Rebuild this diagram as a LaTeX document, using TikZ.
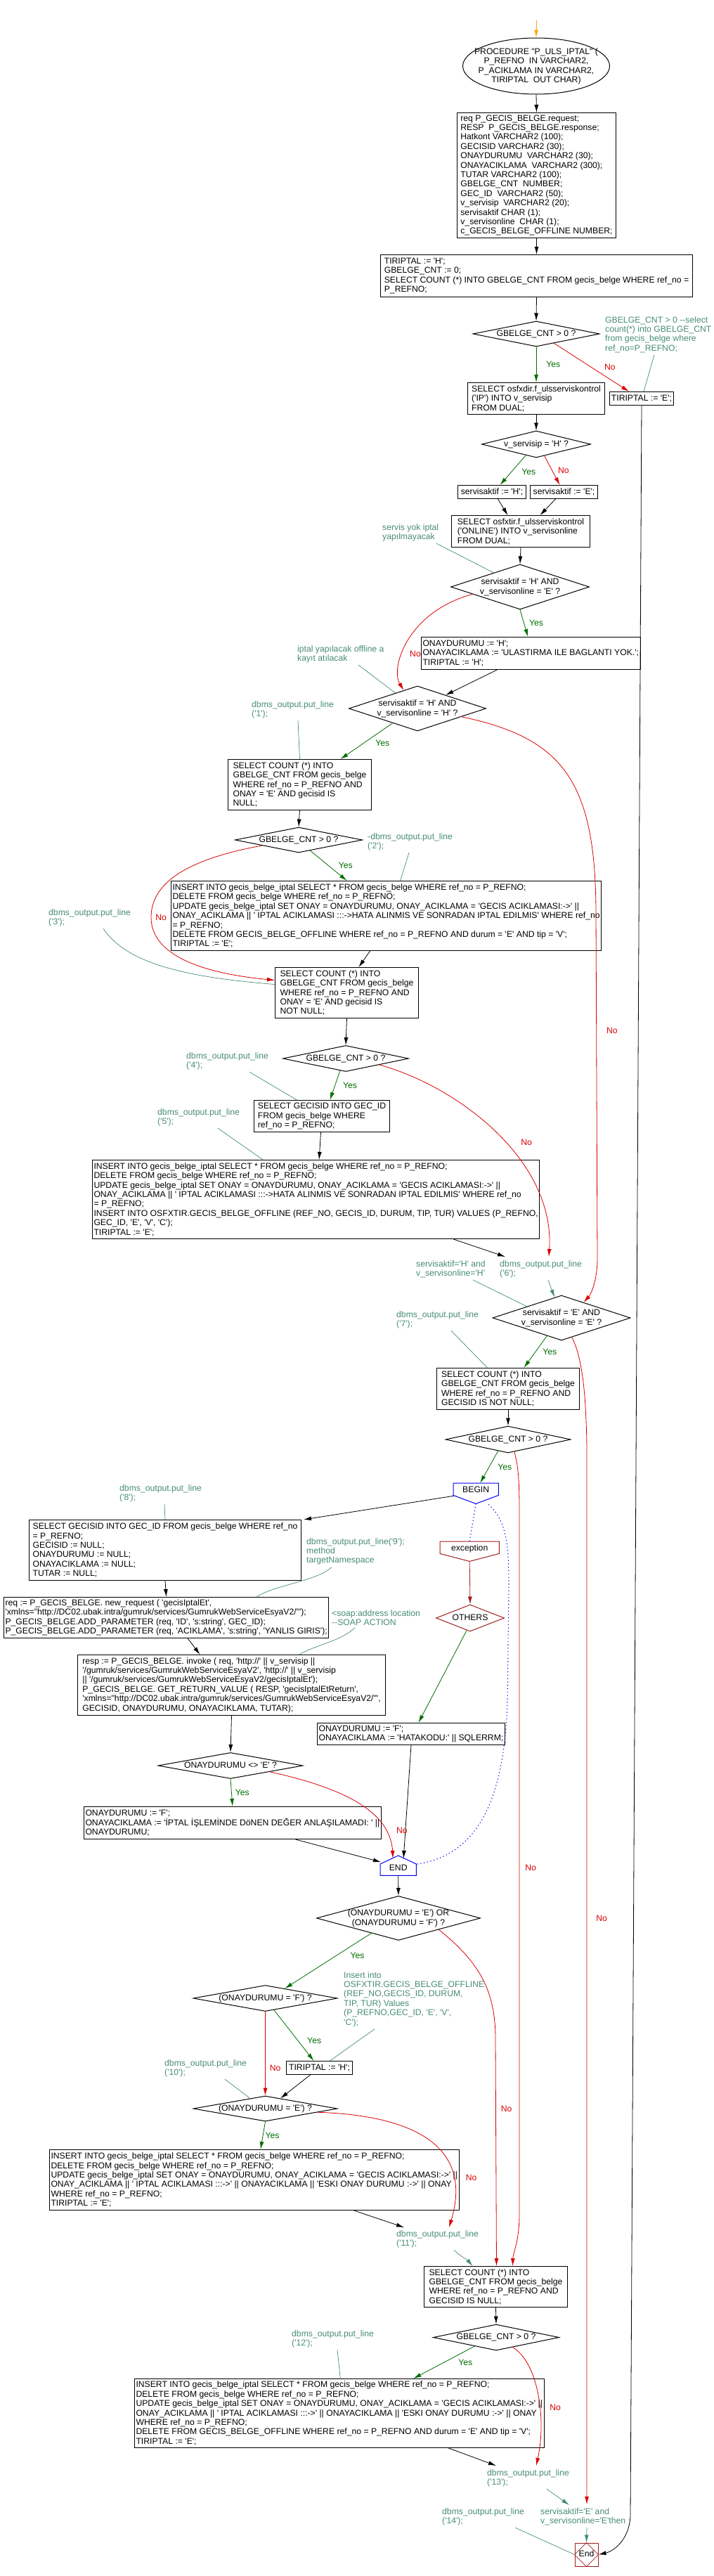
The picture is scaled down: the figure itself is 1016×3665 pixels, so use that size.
\documentclass[tikz,border=0pt]{standalone}
\usepackage{fontspec}
\setmainfont{Liberation Sans}[Ligatures=TeXOff]
\usetikzlibrary{shapes.geometric,arrows.meta,calc}
\definecolor{ygreen}{RGB}{0,110,0}
\definecolor{nred}{RGB}{220,0,0}
\definecolor{cteal}{RGB}{72,140,118}
\definecolor{dred}{RGB}{160,30,30}
\definecolor{bblue}{RGB}{0,0,240}
\definecolor{sorange}{RGB}{255,165,0}
\newcommand{\dtxt}[2][-.3em]{\smash{\raisebox{#1}{\makebox[0pt]{\begin{tabular}{@{}c@{}}#2\end{tabular}}}}}
\begin{document}
\begin{tikzpicture}[x=1pt,y=-1pt,
  every node/.style={font=\fontsize{12.2}{13.4}\selectfont},
  box/.style={draw, line width=1pt, align=left, anchor=north west, inner xsep=2pt, inner ysep=2pt},
  cond/.style={diamond, draw, line width=1pt, inner sep=0pt},
  note/.style={text=cteal, align=left, anchor=north west, inner sep=0pt},
  arr/.style={line width=.8pt, -{Latex[length=11pt,width=6pt]}},
  yes/.style={arr, ygreen},
  no/.style={arr, nred},
  link/.style={line width=.7pt, cteal},
  tlink/.style={link, -{Latex[length=11pt,width=6pt]}},
  dots/.style={bblue, line width=1.1pt, dash pattern=on 1.2pt off 3.6pt},
  ylab/.style={text=ygreen, inner sep=2pt},
  nlab/.style={text=nred, inner sep=2pt}]
\fill[white] (0,0) rectangle (1016,3665);
\useasboundingbox (0,0) rectangle (1016,3665);

\coordinate (st) at (763,29);
\node[ellipse, draw, line width=1pt, inner sep=0pt, minimum width=209pt, minimum height=80pt] (proc) at (763,94)
  {\dtxt{PROCEDURE "P\_ULS\_IPTAL" (\\P\_REFNO~ IN VARCHAR2,\\P\_ACIKLAMA IN VARCHAR2,\\TIRIPTAL~ OUT CHAR)}};
\node[box, minimum width=226pt, minimum height=178pt] (decl) at (650,160)
  {req P\_GECIS\_BELGE.request;\\RESP~ P\_GECIS\_BELGE.response;\\Hatkont VARCHAR2 (100);\\GECISID VARCHAR2 (30);\\ONAYDURUMU~ VARCHAR2 (30);\\ONAYACIKLAMA~ VARCHAR2 (300);\\TUTAR VARCHAR2 (100);\\GBELGE\_CNT~ NUMBER;\\GEC\_ID~ VARCHAR2 (50);\\v\_servisip~ VARCHAR2 (20);\\servisaktif CHAR (1);\\v\_servisonline~ CHAR (1);\\c\_GECIS\_BELGE\_OFFLINE NUMBER;};
\node[box, minimum width=444pt, minimum height=60pt] (init) at (541,362)
  {TIRIPTAL := 'H';\\GBELGE\_CNT := 0;\\SELECT COUNT (*) INTO GBELGE\_CNT FROM gecis\_belge WHERE ref\_no =\\P\_REFNO;};
\node[cond, minimum width=180pt, minimum height=36pt] (d1) at (763,475) {\dtxt{GBELGE\_CNT > 0 ?}};
\node[box, minimum width=195pt, minimum height=45pt] (osf) at (665,544)
  {SELECT osfxdir.f\_ulsserviskontrol\\('IP') INTO v\_servisip\\FROM DUAL;};
\node[box, minimum width=91pt, minimum height=19pt] (tirE) at (867,557) {TIRIPTAL := 'E';};
\node[cond, minimum width=155pt, minimum height=38pt] (d2) at (763,632) {\dtxt{v\_servisip = 'H' ?}};
\node[box, minimum width=97pt, minimum height=19pt] (sH) at (651,690) {servisaktif := 'H';};
\node[box, minimum width=96pt, minimum height=19pt] (sE) at (754,690) {servisaktif := 'E';};
\node[box, minimum width=197pt, minimum height=45pt] (onl) at (642,733)
  {SELECT osfxtir.f\_ulsserviskontrol\\('ONLINE') INTO v\_servisonline\\FROM DUAL;};
\node[cond, minimum width=197pt, minimum height=64pt] (d3) at (740,835) {\dtxt{servisaktif = 'H' AND\\v\_servisonline = 'E' ?}};
\node[box, minimum width=304pt, minimum height=46pt] (onayH) at (599,906)
  {ONAYDURUMU := 'H';\\ONAYACIKLAMA := 'ULASTIRMA ILE BAGLANTI YOK.';\\TIRIPTAL := 'H';};
\node[cond, minimum width=195pt, minimum height=64pt] (d4) at (594,1008) {\dtxt{servisaktif = 'H' AND\\v\_servisonline = 'H' ?}};
\node[box, minimum width=204pt, minimum height=72pt] (cnt1) at (324,1080)
  {SELECT COUNT (*) INTO\\GBELGE\_CNT FROM gecis\_belge\\WHERE ref\_no = P\_REFNO AND\\ONAY = 'E' AND gecisid IS\\NULL;};
\node[cond, minimum width=181pt, minimum height=36pt] (d5) at (425,1195) {\dtxt{GBELGE\_CNT > 0 ?}};
\node[box, minimum width=600pt, minimum height=99pt] (ins1) at (243,1253)
  {INSERT INTO gecis\_belge\_iptal SELECT * FROM gecis\_belge WHERE ref\_no = P\_REFNO;\\DELETE FROM gecis\_belge WHERE ref\_no = P\_REFNO;\\UPDATE gecis\_belge\_iptal SET ONAY = ONAYDURUMU, ONAY\_ACIKLAMA = 'GECIS ACIKLAMASI:->' ||\\ONAY\_ACIKLAMA || ' IPTAL ACIKLAMASI :::->HATA ALINMIS VE SONRADAN IPTAL EDILMIS' WHERE ref\_no\\= P\_REFNO;\\DELETE FROM GECIS\_BELGE\_OFFLINE WHERE ref\_no = P\_REFNO AND durum = 'E' AND tip = 'V';\\TIRIPTAL := 'E';};
\node[box, minimum width=204pt, minimum height=72pt] (cnt2) at (391,1376)
  {SELECT COUNT (*) INTO\\GBELGE\_CNT FROM gecis\_belge\\WHERE ref\_no = P\_REFNO AND\\ONAY = 'E' AND gecisid IS\\NOT NULL;};
\node[cond, minimum width=179pt, minimum height=37pt] (d5b) at (492,1506) {\dtxt{GBELGE\_CNT > 0 ?}};
\node[box, minimum width=193pt, minimum height=45pt] (geci) at (361,1565)
  {SELECT GECISID INTO GEC\_ID\\FROM gecis\_belge WHERE\\ref\_no = P\_REFNO;};
\node[box, minimum width=635pt, minimum height=112pt] (ins2) at (131,1650)
  {INSERT INTO gecis\_belge\_iptal SELECT * FROM gecis\_belge WHERE ref\_no = P\_REFNO;\\DELETE FROM gecis\_belge WHERE ref\_no = P\_REFNO;\\UPDATE gecis\_belge\_iptal SET ONAY = ONAYDURUMU, ONAY\_ACIKLAMA = 'GECIS ACIKLAMASI:->' ||\\ONAY\_ACIKLAMA || ' IPTAL ACIKLAMASI :::->HATA ALINMIS VE SONRADAN IPTAL EDILMIS' WHERE ref\_no\\= P\_REFNO;\\INSERT INTO OSFXTIR.GECIS\_BELGE\_OFFLINE (REF\_NO, GECIS\_ID, DURUM, TIP, TUR) VALUES (P\_REFNO,\\GEC\_ID, 'E', 'V', 'C');\\TIRIPTAL := 'E';};
\node[cond, minimum width=196pt, minimum height=64pt] (d6) at (799,1875) {\dtxt{servisaktif = 'E' AND\\v\_servisonline = 'E' ?}};
\node[box, minimum width=203pt, minimum height=59pt] (cnt3) at (621,1946)
  {SELECT COUNT (*) INTO\\GBELGE\_CNT FROM gecis\_belge\\WHERE ref\_no = P\_REFNO AND\\GECISID IS NOT NULL;};
\node[cond, minimum width=178pt, minimum height=38pt] (d7) at (723,2048) {\dtxt{GBELGE\_CNT > 0 ?}};
\node[inner sep=0pt, minimum width=64pt, minimum height=29pt, anchor=north west] (bgn) at (645,2110) {\dtxt[1.4pt]{BEGIN}};
\draw[bblue, line width=1pt] (bgn.north west) -- (bgn.north east) -- ([shift={(0,-12)}]bgn.south east) -- (bgn.south) -- ([shift={(0,-12)}]bgn.south west) -- cycle;
\node[box, minimum width=387pt, minimum height=86pt] (sel8) at (41,2162)
  {SELECT GECISID INTO GEC\_ID FROM gecis\_belge WHERE ref\_no\\= P\_REFNO;\\GECISID := NULL;\\ONAYDURUMU := NULL;\\ONAYACIKLAMA := NULL;\\TUTAR := NULL;};
\node[inner sep=0pt, minimum width=84pt, minimum height=28pt, anchor=north west] (exc) at (626,2193) {\dtxt[0pt]{exception}};
\draw[dred, line width=1pt] (exc.north west) -- (exc.north east) -- ([shift={(0,-11)}]exc.south east) -- (exc.south) -- ([shift={(0,-11)}]exc.south west) -- cycle;
\node[cond, draw=dred, minimum width=97pt, minimum height=38pt] (oth) at (669,2302) {\dtxt{OTHERS}};
\node[box, minimum width=459pt, minimum height=58pt] (req) at (5,2272)
  {req := P\_GECIS\_BELGE. new\_request ( 'gecisIptalEt',\\'xmlns="http://DC02.ubak.intra/gumruk/services/GumrukWebServiceEsyaV2/"');\\P\_GECIS\_BELGE.ADD\_PARAMETER (req, 'ID', 's:string', GEC\_ID);\\P\_GECIS\_BELGE.ADD\_PARAMETER (req, 'ACIKLAMA', 's:string', 'YANLIS GIRIS');};
\node[box, minimum width=438pt, minimum height=86pt] (resp) at (110,2354)
  {resp := P\_GECIS\_BELGE. invoke ( req, 'http://' || v\_servisip ||\\'/gumruk/services/GumrukWebServiceEsyaV2', 'http://' || v\_servisip\\|| '/gumruk/services/GumrukWebServiceEsyaV2/gecisIptalEt');\\P\_GECIS\_BELGE. GET\_RETURN\_VALUE ( RESP, 'gecisIptalEtReturn',\\'xmlns="http://DC02.ubak.intra/gumruk/services/GumrukWebServiceEsyaV2/"',\\GECISID, ONAYDURUMU, ONAYACIKLAMA, TUTAR);};
\node[box, minimum width=267pt, minimum height=31pt] (onayF) at (451,2451)
  {ONAYDURUMU := 'F';\\ONAYACIKLAMA := 'HATAKODU:' || SQLERRM;};
\node[cond, minimum width=206pt, minimum height=37pt] (d9) at (328,2512) {\dtxt{ONAYDURUMU <> 'E' ?}};
\node[box, minimum width=419pt, minimum height=46pt] (onayF2) at (119,2570)
  {ONAYDURUMU := 'F';\\ONAYACIKLAMA := 'İPTAL İŞLEMİNDE DöNEN DEĞER ANLAŞILAMADI: ' ||\\ONAYDURUMU;};
\node[inner sep=0pt, minimum width=51pt, minimum height=28pt, anchor=north west] (fin) at (541,2640) {\dtxt[-7.5pt]{END}};
\draw[bblue, line width=1pt] (fin.north) -- ([shift={(0,12)}]fin.north east) -- (fin.south east) -- (fin.south west) -- ([shift={(0,12)}]fin.north west) -- cycle;
\node[cond, minimum width=233pt, minimum height=63pt] (d8) at (567,2729) {\dtxt{(ONAYDURUMU = 'E') OR\\(ONAYDURUMU = 'F') ?}};
\node[cond, minimum width=205pt, minimum height=37pt] (d10) at (377.5,2843) {\dtxt{(ONAYDURUMU = 'F') ?}};
\node[box, minimum width=94pt, minimum height=19pt] (tirH) at (407,2932) {TIRIPTAL := 'H';};
\node[cond, minimum width=205pt, minimum height=36pt] (d11) at (377.5,3000) {\dtxt{(ONAYDURUMU = 'E') ?}};
\node[box, minimum width=576pt, minimum height=86pt] (ins3) at (70,3058)
  {INSERT INTO gecis\_belge\_iptal SELECT * FROM gecis\_belge WHERE ref\_no = P\_REFNO;\\DELETE FROM gecis\_belge WHERE ref\_no = P\_REFNO;\\UPDATE gecis\_belge\_iptal SET ONAY = ONAYDURUMU, ONAY\_ACIKLAMA = 'GECIS ACIKLAMASI:->' ||\\ONAY\_ACIKLAMA || ' IPTAL ACIKLAMASI :::->' || ONAYACIKLAMA || 'ESKI ONAY DURUMU :->' || ONAY\\WHERE ref\_no = P\_REFNO;\\TIRIPTAL := 'E';};
\node[box, minimum width=204pt, minimum height=58pt] (cnt4) at (603,3224)
  {SELECT COUNT (*) INTO\\GBELGE\_CNT FROM gecis\_belge\\WHERE ref\_no = P\_REFNO AND\\GECISID IS NULL;};
\node[cond, minimum width=179pt, minimum height=37pt] (d12) at (706,3325.5) {\dtxt{GBELGE\_CNT > 0 ?}};
\node[box, minimum width=575pt, minimum height=98pt] (ins4) at (191,3384)
  {INSERT INTO gecis\_belge\_iptal SELECT * FROM gecis\_belge WHERE ref\_no = P\_REFNO;\\DELETE FROM gecis\_belge WHERE ref\_no = P\_REFNO;\\UPDATE gecis\_belge\_iptal SET ONAY = ONAYDURUMU, ONAY\_ACIKLAMA = 'GECIS ACIKLAMASI:->' ||\\ONAY\_ACIKLAMA || ' IPTAL ACIKLAMASI :::->' || ONAYACIKLAMA || 'ESKI ONAY DURUMU :->' || ONAY\\WHERE ref\_no = P\_REFNO;\\DELETE FROM GECIS\_BELGE\_OFFLINE WHERE ref\_no = P\_REFNO AND durum = 'E' AND tip = 'V';\\TIRIPTAL := 'E';};
\node[draw=dred, line width=1pt, minimum size=33pt, inner sep=0pt] (stopN) at (834.5,3634.5) {\dtxt{End}};
\draw[dred, line width=.7pt] (stopN.north) -- (stopN.east) -- (stopN.south) -- (stopN.west) -- cycle;

\node[note] (nt1) at (861,450) {GBELGE\_CNT > 0 -{}-select\\count(*) into GBELGE\_CNT\\from gecis\_belge where\\ref\_no=P\_REFNO;};
\node[note] (nt2) at (544,745) {servis yok iptal\\yapılmayacak};
\node[note] (nt3) at (423,918) {iptal yapılacak offline a\\kayıt atılacak};
\node[note] (nt4) at (358,997) {dbms\_output.put\_line\\('1');};
\node[note] (nt5) at (523,1185) {-dbms\_output.put\_line\\('2');};
\node[note] (nt6) at (69,1293) {dbms\_output.put\_line\\('3');};
\node[note] (nt7) at (265,1497) {dbms\_output.put\_line\\('4');};
\node[note] (nt8) at (224,1577) {dbms\_output.put\_line\\('5');};
\node[note] (nt9) at (592,1793) {servisaktif='H' and\\v\_servisonline='H'};
\node[note] (nt10) at (711,1793) {dbms\_output.put\_line\\('6');};
\node[note] (nt11) at (564,1865) {dbms\_output.put\_line\\('7');};
\node[note] (nt12) at (170,2112) {dbms\_output.put\_line\\('8');};
\node[note] (nt13) at (436,2188) {dbms\_output.put\_line('9');\\method\\targetNamespace};
\node[note] (nt14) at (472,2290) {<soap:address location\\-{}-SOAP ACTION};
\node[note] (nt15) at (489,2805) {Insert into\\OSFXTIR.GECIS\_BELGE\_OFFLINE\\(REF\_NO,GECIS\_ID, DURUM,\\TIP, TUR) Values\\(P\_REFNO,GEC\_ID, 'E', 'V',\\'C');};
\node[note] (nt16) at (234,2930) {dbms\_output.put\_line\\('10');};
\node[note] (nt17) at (564,3173) {dbms\_output.put\_line\\('11');};
\node[note] (nt18) at (415,3315) {dbms\_output.put\_line\\('12');};
\node[note] (nt19) at (693,3513) {dbms\_output.put\_line\\('13');};
\node[note] (nt20) at (629,3568) {dbms\_output.put\_line\\('14');};
\node[note] (nt21) at (769,3568) {servisaktif='E' and\\v\_servisonline='E'then};

\draw[arr, sorange] (st) -- (proc.north);
\draw[arr] (proc.south) -- (decl.north);
\draw[arr] (decl.south) -- (init.north);
\draw[arr] (init.south) -- (d1.north);
\draw[yes] (d1.south) -- node[ylab, right=12pt] {Yes} (osf.north);
\draw[no] ($(d1.south)!.28!(d1.east)$) -- node[nlab, right=16pt, pos=.5] {No} ([shift={(-18,0)}]tirE.north);
\draw[link] ([shift={(70,3)}]nt1.south west) -- ([shift={(3,0)}]tirE.north);
\draw[arr] (tirE.south) -- (897,3580) .. controls (895,3615) and (872,3630) .. (stopN.east);
\draw[arr] (osf.south) -- (d2.north);
\draw[yes] ($(d2.south)!.19!(d2.west)$) -- node[ylab, right=12pt, pos=.55] {Yes} ([shift={(11.5,0)}]sH.north);
\draw[no] ($(d2.south)!.15!(d2.east)$) -- node[nlab, right=6pt] {No} ([shift={(-6,0)}]sE.north);
\draw[arr] ([shift={(8.5,0)}]sH.south) -- ([shift={(-18.5,0)}]onl.north);
\draw[arr] ([shift={(-12,0)}]sE.south) -- ([shift={(27.5,0)}]onl.north);
\draw[link] ([shift={(77,3)}]nt2.south west) -- ($(d3.north)!.38!(d3.west)$);
\draw[arr] (onl.south) -- (d3.north);
\draw[yes] (d3.south) -- node[ylab, right=5pt] {Yes} ([shift={(-4,0)}]onayH.north);
\draw[no] ($(d3.west)!.32!(d3.south)$) .. controls (580,870) and (555,950) .. node[nlab, right=8pt, pos=.62] {No} ($(d4.north)!.2!(d4.west)$);
\draw[arr] ([shift={(-48,0)}]onayH.south) -- ($(d4.north)!.41!(d4.east)$);
\draw[link] ([shift={(87,3)}]nt3.south west) -- ($(d4.north)!.32!(d4.west)$);
\draw[link] ([shift={(66,3)}]nt4.south west) -- (cnt1.north);
\draw[yes] ($(d4.south)!.36!(d4.west)$) -- node[ylab, right=14pt, pos=.55] {Yes} ([shift={(58,0)}]cnt1.north);
\draw[no] ($(d4.east)!.36!(d4.south)$) .. controls (800,1050) and (848,1110) .. (848,1300) -- node[nlab, right=12pt, pos=.34] {No} (850,1790) .. controls (850,1820) and (842,1840) .. ($(d6.north)!.32!(d6.east)$);
\draw[arr] (cnt1.south) -- (d5.north);
\draw[link] ([shift={(59,3)}]nt5.south west) -- ([shift={(20,0)}]ins1.north);
\draw[yes] ($(d5.south)!.18!(d5.east)$) -- node[ylab, right=12pt] {Yes} ([shift={(-56,0)}]ins1.north);
\draw[no] ($(d5.south)!.57!(d5.west)$) .. controls (280,1220) and (215,1250) .. (215,1305) node[nlab, right=4pt] {No} .. controls (215,1360) and (290,1385) .. ([shift={(0,-18)}]cnt2.west);
\draw[arr] ([shift={(-23,0)}]ins1.south) -- ([shift={(17,0)}]cnt2.north);
\draw[link] ([shift={(78,3)}]nt6.south west) .. controls (180,1370) and (260,1390) .. ([shift={(0,-12)}]cnt2.west);
\draw[arr] (cnt2.south) -- (d5b.north);
\draw[link] ([shift={(90,3)}]nt7.south west) -- ([shift={(-35.5,0)}]geci.north);
\draw[yes] ($(d5b.south)!.09!(d5b.west)$) -- node[ylab, right=9pt] {Yes} ([shift={(11.5,0)}]geci.north);
\draw[no] ($(d5b.south)!.53!(d5b.east)$) .. controls (650,1545) and (790,1650) .. node[nlab, right=20pt, pos=.55] {No} ([shift={(70,-5)}]nt10.north west);
\draw[arr] ([shift={(-1.5,0)}]geci.south) -- ([shift={(4.5,0)}]ins2.north);
\draw[link] ([shift={(86,3)}]nt8.south west) -- ([shift={(-75.5,0)}]ins2.north);
\draw[arr] ([shift={(195.5,0)}]ins2.south) -- ([shift={(8,-5)}]nt10.north west);
\draw[tlink] ([shift={(69,3)}]nt10.south west) -- ($(d6.north)!.1!(d6.west)$);
\draw[link] ([shift={(81,3)}]nt9.south west) -- ($(d6.north)!.5!(d6.west)$);
\draw[link] ([shift={(78,3)}]nt11.south west) -- ([shift={(-29.5,0)}]cnt3.north);
\draw[yes] ($(d6.south)!.21!(d6.west)$) -- node[ylab, right=8pt] {Yes} ([shift={(22.5,0)}]cnt3.north);
\draw[no] ($(d6.south)!.15!(d6.east)$) .. controls (828,1930) and (834,1980) .. (835,2060) -- node[nlab, right=11pt, pos=.445] {No} ([shift={(66,-5)}]nt21.north west);
\draw[arr] (cnt3.south) -- (d7.north);
\draw[yes] ($(d7.south)!.16!(d7.west)$) -- node[ylab, right=10pt] {Yes} ([shift={(6,0)}]bgn.north);
\draw[no] ($(d7.south)!.1!(d7.east)$) .. controls (737,2085) and (739,2100) .. (739,2150) -- node[nlab, right=6pt, pos=.507] {No} (739,3150) .. controls (739,3190) and (730,3205) .. ([shift={(24,0)}]cnt4.north);
\draw[arr] ([shift={(1,3.5)}]bgn.west) -- ([shift={(3,0)}]sel8.north east);
\draw[dots] (bgn.south) -- (exc.north);
\draw[dots] ([shift={(18,1)}]bgn.south) .. controls (722,2165) and (724,2200) .. (724,2260) -- (722,2420) .. controls (718,2560) and (680,2640) .. ([shift={(0,-2)}]fin.east);
\draw[arr, dred] (exc.south) -- (oth.north);
\draw[arr, ygreen] ($(oth.south)!.1!(oth.west)$) -- ([shift={(10.5,0)}]onayF.north);
\draw[arr] (sel8.south) -- (req.north);
\draw[link] ([shift={(64,3)}]nt12.south west) -- (sel8.north);
\draw[arr] ([shift={(30.5,0)}]req.south) -- ([shift={(-45,0)}]resp.north);
\draw[link] ([shift={(36,3)}]nt13.south west) .. controls (450,2250) and (390,2255) .. ([shift={(128.5,0)}]req.north);
\draw[link] ([shift={(33,3)}]nt14.south west) .. controls (485,2335) and (450,2340) .. ([shift={(96,0)}]resp.north);
\draw[arr] (onayF.south) -- ([shift={(7.5,4)}]fin.north);
\draw[arr] (resp.south) -- (d9.north);
\draw[yes] (d9.south) -- node[ylab, right=3pt] {Yes} (onayF2.north);
\draw[no] ($(d9.south)!.54!(d9.east)$) .. controls (470,2540) and (555,2570) .. node[nlab, right=14pt, pos=.8] {No} ([shift={(-7.5,4)}]fin.north);
\draw[arr] ([shift={(89.5,0)}]onayF2.south) -- ([shift={(1,-5)}]fin.west);
\draw[arr] (fin.south) -- (d8.north);
\draw[yes] ($(d8.south)!.33!(d8.west)$) -- node[ylab, right=17pt, pos=.4] {Yes} ($(d10.north)!.27!(d10.east)$);
\draw[no] ($(d8.south)!.49!(d8.east)$) .. controls (680,2790) and (705,2830) .. (705,2900) -- node[nlab, right=5pt, pos=.31] {No} ([shift={(1,0)}]cnt4.north);
\draw[link] ([shift={(44,3)}]nt15.south west) -- ([shift={(15,0)}]tirH.north);
\draw[yes] ($(d10.south)!.12!(d10.east)$) -- node[ylab, right=11pt, pos=.6] {Yes} ([shift={(-8,0)}]tirH.north);
\draw[no] (d10.south) -- node[nlab, right=4pt, pos=.67] {No} (d11.north);
\draw[arr] ([shift={(-13,0)}]tirH.south) -- ($(d11.north)!.21!(d11.east)$);
\draw[link] ([shift={(86,3)}]nt16.south west) -- ($(d11.north)!.21!(d11.west)$);
\draw[yes] (d11.south) -- node[ylab, right=1pt] {Yes} ([shift={(9,0)}]ins3.north);
\draw[no] ($(d11.east)!.28!(d11.south)$) .. controls (600,3010) and (672,3060) .. node[nlab, right=16pt, pos=.75] {No} ([shift={(75,-4)}]nt17.north west);
\draw[arr] ([shift={(142,0)}]ins3.south) -- ([shift={(11,-4)}]nt17.north west);
\draw[tlink] ([shift={(82,3)}]nt17.south west) .. controls (655,3210) and (665,3215) .. ([shift={(-33,0)}]cnt4.north);
\draw[arr] (cnt4.south) -- (d12.north);
\draw[link] ([shift={(65,3)}]nt18.south west) -- ([shift={(1.5,0)}]ins4.north);
\draw[yes] ($(d12.south)!.34!(d12.west)$) -- node[ylab, right=18pt] {Yes} ([shift={(105.5,0)}]ins4.north);
\draw[no] ($(d12.south)!.26!(d12.east)$) .. controls (765,3360) and (778,3440) .. node[nlab, right=12pt, pos=.6] {No} ([shift={(70,-5)}]nt19.north west);
\draw[arr] ([shift={(155.5,0)}]ins4.south) -- ([shift={(13,-5)}]nt19.north west);
\draw[tlink] ([shift={(85,3)}]nt19.south west) -- ([shift={(41,-4)}]nt21.north west);
\draw[tlink] ([shift={(66,3)}]nt21.south west) -- (stopN.north);
\draw[link] ([shift={(104,3)}]nt20.south west) -- (stopN.west);
\end{tikzpicture}
\end{document}
